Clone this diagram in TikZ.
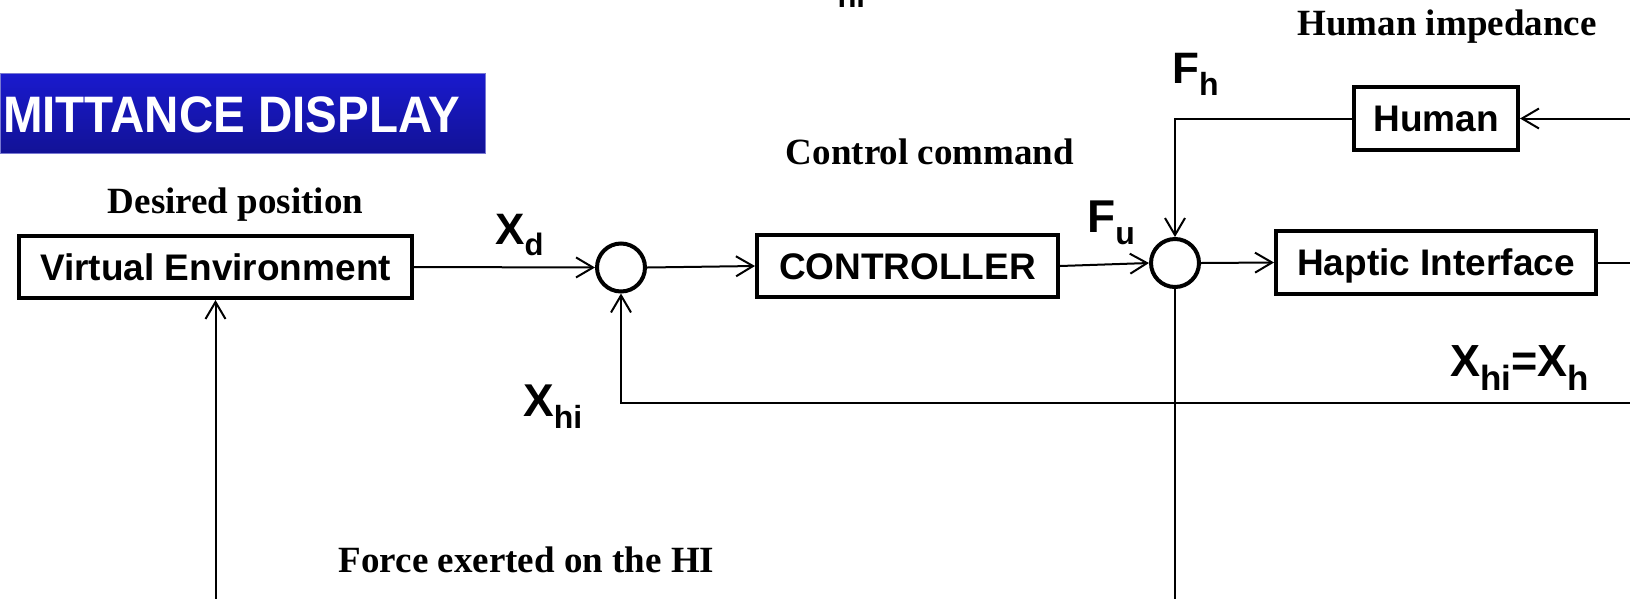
\documentclass[tikz,border=0pt]{standalone}
\usepackage{fontspec}
\setmainfont{Liberation Serif}
\newfontfamily\arialf{Liberation Sans}
\usetikzlibrary{arrows.meta}
\newcommand{\fsz}[1]{\fontsize{#1}{#1}\selectfont}
% #1 main size, #2 main text, #3 sub size, #4 drop, #5 sub text
\newcommand{\lbl}[5]{{\arialf\bfseries\fsz{#1}#2}\raisebox{-#4pt}{\arialf\bfseries\fsz{#3}#5}}
\begin{document}
\begin{tikzpicture}[x=1pt,y=-1pt,
  blk/.style={draw,line width=4pt,inner sep=0pt,font=\arialf\bfseries\fsz{37},text height=26.5pt,text depth=0pt},
  sumj/.style={circle,draw,line width=4pt,minimum size=48pt,inner sep=0pt},
  conn/.style={line width=2pt,-{Straight Barb[length=17pt,width=20pt]}},
  wire/.style={line width=2pt},
  capt/.style={font=\bfseries\fsz{37},anchor=base,inner sep=0pt},
  sym/.style={anchor=base west,inner sep=0pt}]
\useasboundingbox (0,0) rectangle (1630,598);
\fill[white] (0,0) rectangle (1630,598);
% banner
\shade[top color={rgb,255:red,26;green,26;blue,206},bottom color={rgb,255:red,18;green,18;blue,150}] (0,73) rectangle (485,153);
\draw[line width=1pt,color={rgb,255:red,120;green,120;blue,210}] (0,73) rectangle (485,153);
\node[sym,text=white,font=\arialf\bfseries\fsz{47.5}] (banner) at (3,132) {\scalebox{1}[1.08]{MITTANCE DISPLAY}};
% blocks
\node[blk,minimum width=393pt,minimum height=62pt] (ve) at (215.5,267) {Virtual Environment};
\node[blk,minimum width=301pt,minimum height=62pt] (ctl) at (907.5,266) {CONTROLLER};
\node[blk,minimum width=320pt,minimum height=63pt] (hap) at (1436,262.5) {Haptic Interface};
\node[blk,minimum width=164pt,minimum height=63pt] (hum) at (1436,118.5) {Human};
\node[sumj] (s1) at (621,267.5) {};
\node[sumj] (s2) at (1175,263) {};
% captions
\node[capt] (c1) at (1447,35) {Human impedance};
\node[capt] (c2) at (235.5,213) {Desired position};
\node[capt] (c3) at (930,164) {Control command};
\node[capt] (c4) at (526.5,572) {Force exerted on the HI};
% symbols
\node[sym] (xd) at (495,244) {\lbl{44}{X}{31}{11}{d}};
\node[sym] (xhi) at (523,416) {\lbl{46}{X}{32}{12}{hi}};
\node[sym] (fu) at (1087,232) {\lbl{46}{F}{32}{12}{u}};
\node[sym] (fh) at (1172,83) {\lbl{44}{F}{32}{12}{h}};
\node[sym] (xhh) at (1450,376) {\lbl{45}{X}{35}{14}{hi}\lbl{45}{=X}{35}{14}{h}};
\node[sym] (xtop) at (808,-5) {\lbl{44}{X}{31}{12}{hi}};
% coordinates
\coordinate (rA) at (1640,262.5);
\coordinate (rB) at (1640,118.5);
\coordinate (rC) at (1640,403);
\coordinate (bA) at (215.5,610);
\coordinate (bB) at (1175,610);
% connectors
\draw[conn] (ve.east) -- (s1.west);
\draw[conn] (s1.east) -- (ctl.west);
\draw[conn] (ctl.east) -- (s2.west);
\draw[conn] (s2.east) -- (hap.west);
\draw[wire] (hap.east) -- (rA);
\draw[conn] (rB) -- (hum.east);
\draw[conn] (hum.west) -| (s2.north);
\draw[wire] (s2.south) -- (bB);
\draw[conn] (rC) -| (s1.south);
\draw[conn] (bA) -- (ve.south);
\end{tikzpicture}
\end{document}
